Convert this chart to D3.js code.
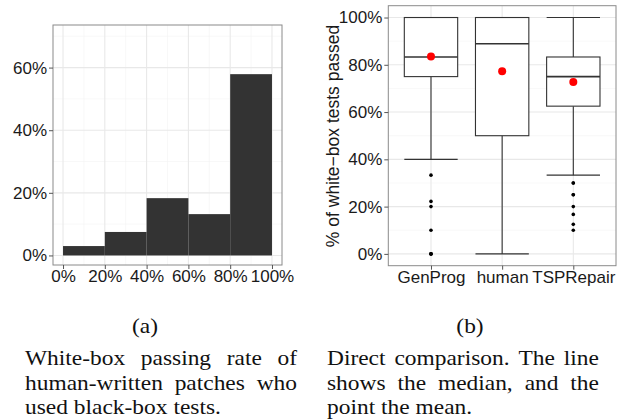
<!DOCTYPE html>
<meta charset="UTF-8">
<style>
  body { margin: 0; background: #fff; }
  .tick text { font: 17px "Liberation Sans", Arial, sans-serif; fill: #1a1a1a; }
  .tick line { stroke: #555; }
  .cap { font-family: "Liberation Serif", "Times New Roman", serif; font-size: 21.5px; fill: #111; }
</style>
<body>
<div class="chart"></div>
<script src="https://d3js.org/d3.v7.min.js"></script>
<script>
// (a) histogram: share of human-written patches by white-box passing rate
var histBinStart = [0, 0.2, 0.4, 0.6, 0.8];
var histBinEnd = [0.2, 0.4, 0.6, 0.8, 1.0];
var histShare = [0.03, 0.075, 0.183, 0.132, 0.579];
var histXTicks = [0, 0.2, 0.4, 0.6, 0.8, 1.0];
var histYTicks = [0, 0.2, 0.4, 0.6];

// (b) boxplot stats per tool
var tools = ["GenProg", "human", "TSPRepair"];
var q1 = [0.75, 0.5, 0.625];
var median = [0.833, 0.889, 0.75];
var q3 = [1.0, 1.0, 0.833];
var whiskerLow = [0.4, 0.0, 0.333];
var whiskerHigh = [1.0, 1.0, 1.0];
var meanPassed = [0.835, 0.773, 0.727];
var outliers = [
  [0.333, 0.222, 0.2, 0.1, 0, 0, 0],
  [],
  [0.3, 0.3, 0.25, 0.25, 0.2, 0.167, 0.125, 0.1]
];
var boxYTicks = [0, 0.2, 0.4, 0.6, 0.8, 1.0];

var captions = [
  { label: "(a)", cx: 145, x0: 25, x1: 297,
    lines: ["White-box passing rate of", "human-written patches who", "used black-box tests."] },
  { label: "(b)", cx: 470, x0: 327, x1: 599,
    lines: ["Direct comparison. The line", "shows the median, and the", "point the mean."] }
];

var svg = d3.select(".chart").append("svg")
  .attr("width", 621).attr("height", 420);
svg.append("rect").attr("width", 621).attr("height", 420).attr("fill", "#fff");

var pct = d3.format(".0%");

function grid(g, x, y, xs, ys, xMinor, yMinor, x0, x1, y0, y1) {
  g.selectAll(".ymin").data(yMinor).enter().append("line")
    .attr("x1", x0).attr("x2", x1)
    .attr("y1", function (d) { return y(d); }).attr("y2", function (d) { return y(d); })
    .attr("stroke", "#f3f3f3").attr("stroke-width", 0.6);
  g.selectAll(".xmin").data(xMinor).enter().append("line")
    .attr("y1", y0).attr("y2", y1)
    .attr("x1", function (d) { return x(d); }).attr("x2", function (d) { return x(d); })
    .attr("stroke", "#f3f3f3").attr("stroke-width", 0.6);
  g.selectAll(".ymaj").data(ys).enter().append("line")
    .attr("x1", x0).attr("x2", x1)
    .attr("y1", function (d) { return y(d); }).attr("y2", function (d) { return y(d); })
    .attr("stroke", "#e8e8e8").attr("stroke-width", 1.1);
  g.selectAll(".xmaj").data(xs).enter().append("line")
    .attr("y1", y0).attr("y2", y1)
    .attr("x1", function (d) { return x(d); }).attr("x2", function (d) { return x(d); })
    .attr("stroke", "#e8e8e8").attr("stroke-width", 1.1);
}

// ---------- panel (a) ----------
var ax = d3.scaleLinear().domain([-0.048, 1.048]).range([53, 282]);
var ay = d3.scaleLinear().domain([-0.0305, 0.736]).range([265, 25]);
var ga = svg.append("g");
grid(ga, ax, ay, histXTicks, histYTicks,
  [0.1, 0.3, 0.5, 0.7, 0.9], [0.1, 0.3, 0.5, 0.7], 53, 282, 25, 265);

ga.selectAll(".bar").data(histShare).enter().append("rect")
  .attr("x", function (d, i) { return ax(histBinStart[i]); })
  .attr("width", function (d, i) { return ax(histBinEnd[i]) - ax(histBinStart[i]); })
  .attr("y", function (d) { return ay(d); })
  .attr("height", function (d) { return ay(0) - ay(d); })
  .attr("fill", "#333333");

ga.append("rect").attr("x", 53).attr("y", 25).attr("width", 229).attr("height", 240)
  .attr("fill", "none").attr("stroke", "#8a8a8a").attr("stroke-width", 1);

ga.append("g").attr("transform", "translate(53,0)")
  .call(d3.axisLeft(ay).tickValues(histYTicks).tickFormat(pct).tickSize(4).tickPadding(2))
  .call(function (g) { g.select(".domain").remove(); });
ga.append("g").attr("transform", "translate(0,265)")
  .call(d3.axisBottom(ax).tickValues(histXTicks).tickFormat(pct).tickSize(4).tickPadding(1))
  .call(function (g) { g.select(".domain").remove(); });

// ---------- panel (b) ----------
var bx = d3.scalePoint().domain(tools).range([388.3, 616]).padding(0.6);
var by = d3.scaleLinear().domain([-0.05, 1.05]).range([265.7, 5.7]);
var bw = bx.step() * 0.75;
var gb = svg.append("g");
grid(gb, bx, by, tools, boxYTicks, [], [0.1, 0.3, 0.5, 0.7, 0.9], 388.3, 616, 5.7, 265.7);

var line = "#333";
tools.forEach(function (t, i) {
  var cx = bx(t);
  // whiskers
  gb.append("line").attr("x1", cx).attr("x2", cx)
    .attr("y1", by(q1[i])).attr("y2", by(whiskerLow[i]))
    .attr("stroke", line).attr("stroke-width", 1.1);
  gb.append("line").attr("x1", cx).attr("x2", cx)
    .attr("y1", by(q3[i])).attr("y2", by(whiskerHigh[i]))
    .attr("stroke", line).attr("stroke-width", 1.1);
  // caps
  [whiskerLow[i], whiskerHigh[i]].forEach(function (v) {
    gb.append("line").attr("x1", cx - bw / 2).attr("x2", cx + bw / 2)
      .attr("y1", by(v)).attr("y2", by(v))
      .attr("stroke", line).attr("stroke-width", 1.1);
  });
  // box
  gb.append("rect").attr("x", cx - bw / 2).attr("width", bw)
    .attr("y", by(q3[i])).attr("height", by(q1[i]) - by(q3[i]))
    .attr("fill", "#fff").attr("stroke", line).attr("stroke-width", 1.1);
  gb.append("line").attr("x1", cx - bw / 2).attr("x2", cx + bw / 2)
    .attr("y1", by(median[i])).attr("y2", by(median[i]))
    .attr("stroke", line).attr("stroke-width", 1.6);
  // outliers
  gb.selectAll(".o" + i).data(outliers[i]).enter().append("circle")
    .attr("cx", cx).attr("cy", function (d) { return by(d); })
    .attr("r", 1.8).attr("fill", "#000");
  // mean
  gb.append("circle").attr("cx", cx).attr("cy", by(meanPassed[i]))
    .attr("r", 4).attr("fill", "#ff0000");
});

gb.append("rect").attr("x", 388.3).attr("y", 5.7).attr("width", 227.7).attr("height", 260)
  .attr("fill", "none").attr("stroke", "#8a8a8a").attr("stroke-width", 1);

gb.append("g").attr("transform", "translate(388.3,0)")
  .call(d3.axisLeft(by).tickValues(boxYTicks).tickFormat(pct).tickSize(4).tickPadding(2))
  .call(function (g) { g.select(".domain").remove(); });
gb.append("g").attr("transform", "translate(0,265.7)")
  .call(d3.axisBottom(bx).tickSize(4).tickPadding(1))
  .call(function (g) { g.select(".domain").remove(); });

svg.selectAll(".tick text").attr("font-family", null).attr("font-size", null);

svg.append("text")
  .attr("transform", "translate(339,136) rotate(-90)")
  .attr("text-anchor", "middle")
  .style("font", "17.5px 'Liberation Sans', Arial, sans-serif")
  .attr("fill", "#1a1a1a")
  .text("% of white\u2212box tests passed");

// ---------- captions ----------
// the printed captions are a little wider than the serif face: stretch horizontally
var sx = 1.09;
var baselines = [365, 389.5, 414];
captions.forEach(function (c) {
  svg.append("text").attr("class", "cap")
    .attr("transform", "translate(" + c.cx + ",333) scale(" + sx + ",1)")
    .attr("text-anchor", "middle").text(c.label);
  c.lines.forEach(function (ln, li) {
    var words = ln.split(" ");
    var last = li === c.lines.length - 1;
    var widths = words.map(function (w) {
      var t = svg.append("text").attr("class", "cap").text(w);
      var wd = t.node().getComputedTextLength() * sx;
      t.remove();
      return wd;
    });
    var total = d3.sum(widths);
    var gap = last ? 5.4 * sx : (c.x1 - c.x0 - total) / (words.length - 1);
    var x = c.x0;
    words.forEach(function (w, wi) {
      svg.append("text").attr("class", "cap")
        .attr("transform", "translate(" + x + "," + baselines[li] + ") scale(" + sx + ",1)")
        .text(w);
      x += widths[wi] + gap;
    });
  });
});
</script>
</body>
